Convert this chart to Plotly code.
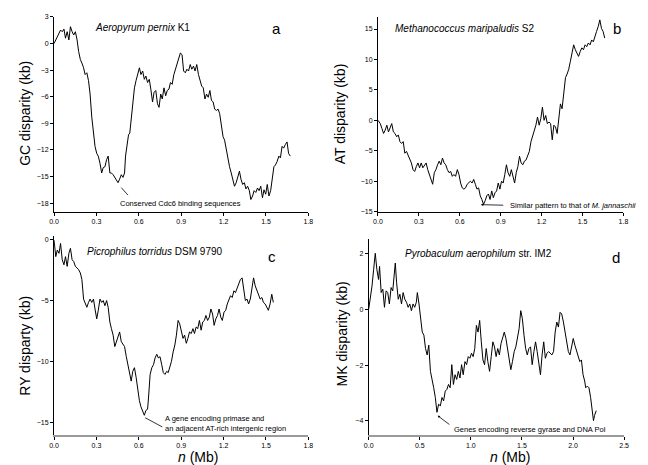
import plotly.graph_objects as go

# ---------------- data ----------------
a_n = [0, 0.023, 0.046, 0.058, 0.07, 0.081, 0.093, 0.105, 0.116, 0.128, 0.139, 0.151, 0.163, 0.174, 0.186, 0.197,
       0.209, 0.22, 0.232, 0.244, 0.255, 0.267, 0.279, 0.29, 0.302, 0.313, 0.325, 0.337, 0.348, 0.36, 0.372, 0.383,
       0.395, 0.406, 0.418, 0.43, 0.441, 0.453, 0.464, 0.476, 0.488, 0.499, 0.506, 0.518, 0.527, 0.536, 0.546, 0.557,
       0.569, 0.58, 0.592, 0.604, 0.615, 0.627, 0.639, 0.65, 0.662, 0.674, 0.685, 0.697, 0.708, 0.72, 0.732, 0.743,
       0.755, 0.766, 0.778, 0.79, 0.801, 0.813, 0.824, 0.836, 0.848, 0.859, 0.871, 0.882, 0.894, 0.906, 0.917, 0.929,
       0.94, 0.952, 0.964, 0.975, 0.987, 0.998, 1.01, 1.022, 1.033, 1.045, 1.056, 1.068, 1.079, 1.091, 1.103, 1.114,
       1.126, 1.137, 1.149, 1.161, 1.172, 1.184, 1.196, 1.207, 1.219, 1.23, 1.242, 1.254, 1.265, 1.277, 1.289, 1.3,
       1.312, 1.323, 1.335, 1.347, 1.358, 1.37, 1.382, 1.393, 1.405, 1.416, 1.428, 1.44, 1.451, 1.463, 1.475, 1.486,
       1.498, 1.509, 1.521, 1.533, 1.544, 1.556, 1.567, 1.579, 1.591, 1.602, 1.614, 1.625, 1.637, 1.649, 1.66, 1.672]
a_gc = [0, 0.78, 1.52, 1.33, 1.63, 0.6, 1.33, 0.4, 1.9, 1.33, 0.96, 1.33, 0.4, -0.9, -1.8, -2.2,
        -2.74, -3.5, -3.3, -4.2, -5.7, -8.3, -10.1, -11.6, -12.4, -12.7, -13.5, -14.6, -14.0, -13.9, -13.1, -12.7,
        -14.6, -14.6, -14.8, -15.1, -15.3, -15.7, -15.3, -14.8, -15.1, -14.6, -12.7, -11.6, -10.3, -10.1, -8.3, -6.4,
        -5.0, -4.2, -3.3, -2.74, -3.5, -3.1, -4.04, -3.67, -4.4, -4.04, -5.15, -6.6, -5.5, -5.3, -6.8, -7.2,
        -5.7, -6.26, -5.0, -5.9, -5.3, -5.15, -4.4, -4.6, -3.5, -2.9, -2.2, -1.44, -1.07, -1.26, -3.1, -3.3,
        -2.9, -3.1, -2.37, -2.9, -2.55, -3.1, -2.37, -3.5, -4.2, -4.8, -5.0, -6.26, -5.7, -6.07, -5.3, -6.4,
        -6.6, -7.4, -7.55, -7.4, -7.9, -9.4, -10.5, -10.9, -12.0, -12.9, -13.9, -14.6, -15.3, -16.1, -15.7, -15.0,
        -14.4, -15.3, -15.9, -15.7, -16.4, -16.1, -16.6, -17.6, -17.2, -16.6, -16.8, -16.3, -16.6, -16.1, -17.4, -16.5,
        -17.0, -15.9, -17.2, -16.6, -15.3, -13.9, -13.7, -13.3, -12.7, -12.9, -11.6, -11.8, -11.4, -11.1, -12.4, -12.7]

b_n = [0, 0.017, 0.029, 0.041, 0.053, 0.065, 0.077, 0.089, 0.101, 0.113, 0.125, 0.137, 0.149, 0.161, 0.173, 0.185,
       0.197, 0.209, 0.221, 0.233, 0.245, 0.257, 0.269, 0.281, 0.293, 0.305, 0.317, 0.329, 0.341, 0.353, 0.365, 0.377,
       0.389, 0.401, 0.413, 0.425, 0.437, 0.449, 0.461, 0.473, 0.485, 0.497, 0.509, 0.521, 0.533, 0.545, 0.557, 0.569,
       0.582, 0.594, 0.606, 0.618, 0.63, 0.642, 0.654, 0.666, 0.678, 0.69, 0.702, 0.714, 0.726, 0.738, 0.75, 0.762,
       0.774, 0.786, 0.798, 0.81, 0.822, 0.834, 0.846, 0.858, 0.87, 0.882, 0.894, 0.906, 0.918, 0.93, 0.942, 0.954,
       0.966, 0.978, 0.99, 1.002, 1.014, 1.026, 1.038, 1.05, 1.062, 1.074, 1.086, 1.098, 1.11, 1.122, 1.134, 1.146,
       1.158, 1.17, 1.182, 1.194, 1.206, 1.218, 1.23, 1.242, 1.254, 1.266, 1.278, 1.29, 1.302, 1.314, 1.326, 1.338,
       1.35, 1.363, 1.375, 1.387, 1.399, 1.411, 1.423, 1.435, 1.447, 1.459, 1.471, 1.483, 1.495, 1.507, 1.519, 1.531,
       1.543, 1.555, 1.567, 1.579, 1.591, 1.603, 1.615, 1.627, 1.639, 1.651, 1.663]
b_at = [0, -0.54, -1.35, -2.16, -1.6, -0.8, -1.9, -1.1, -0.54, -1.9, -2.16, -2.7, -2.4, -3.5, -3.8, -3.5,
        -5.4, -5.1, -5.7, -6.5, -7.0, -8.1, -8.4, -7.6, -7.0, -7.8, -7.0, -7.8, -7.3, -7.0, -8.1, -8.9,
        -9.7, -10.5, -8.6, -8.1, -7.3, -6.7, -7.3, -6.2, -7.0, -7.3, -8.1, -8.6, -8.4, -9.2, -8.9, -9.2,
        -8.1, -8.9, -10.3, -11.1, -11.3, -11.1, -10.5, -10.3, -10.0, -10.3, -9.7, -10.5, -11.3, -11.1, -12.4, -13.0,
        -13.8, -13.2, -12.4, -12.1, -13.0, -11.6, -12.7, -11.9, -11.6, -10.3, -11.3, -10.0, -10.3, -8.9, -7.3, -8.6,
        -9.2, -8.1, -9.2, -10.3, -8.6, -7.6, -5.9, -7.0, -7.3, -6.7, -6.5, -5.9, -5.1, -3.5, -2.7, -1.9,
        -0.8, 0.54, -0.8, 0.27, 2.16, 0.0, 0.8, -0.54, -0.27, -0.54, -3.2, -0.8, -1.1, -2.16, 0.0, 2.7,
        1.9, 4.9, 7.0, 7.6, 8.4, 9.7, 11.3, 12.4, 11.6, 11.1, 10.5, 11.3, 11.9, 11.6, 12.4, 12.1,
        12.7, 12.4, 13.2, 12.9, 14.0, 14.6, 15.4, 16.5, 15.1, 14.6, 13.5]

c_n = [0, 0.012, 0.023, 0.035, 0.046, 0.058, 0.07, 0.081, 0.093, 0.105, 0.116, 0.128, 0.139, 0.151, 0.163, 0.174,
       0.186, 0.197, 0.209, 0.22, 0.232, 0.244, 0.255, 0.267, 0.279, 0.29, 0.302, 0.313, 0.325, 0.337, 0.348, 0.36,
       0.372, 0.383, 0.395, 0.406, 0.418, 0.43, 0.441, 0.453, 0.464, 0.476, 0.488, 0.499, 0.511, 0.523, 0.534, 0.546,
       0.557, 0.569, 0.581, 0.592, 0.604, 0.615, 0.627, 0.639, 0.65, 0.662, 0.669, 0.68, 0.692, 0.704, 0.715, 0.727,
       0.738, 0.75, 0.762, 0.773, 0.785, 0.797, 0.808, 0.82, 0.831, 0.843, 0.855, 0.866, 0.878, 0.889, 0.901, 0.913,
       0.924, 0.936, 0.947, 0.959, 0.971, 0.983, 0.994, 1.006, 1.017, 1.029, 1.041, 1.052, 1.064, 1.075, 1.087, 1.099,
       1.11, 1.122, 1.133, 1.145, 1.157, 1.168, 1.18, 1.191, 1.203, 1.215, 1.226, 1.238, 1.249, 1.261, 1.273, 1.284,
       1.296, 1.308, 1.319, 1.331, 1.343, 1.354, 1.366, 1.377, 1.389, 1.401, 1.412, 1.424, 1.436, 1.447, 1.459, 1.471,
       1.482, 1.494, 1.506, 1.517, 1.529, 1.541, 1.552]
c_ry = [-0.05, -1.4, -0.86, -1.13, -0.32, -1.66, -2.07, -1.4, -2.2, -1.13, -0.72, -1.66, -1.8, -2.2, -2.33, -2.47,
        -2.74, -3.27, -4.88, -5.3, -5.55, -5.15, -4.88, -5.15, -4.88, -5.69, -6.5, -5.8, -4.88, -5.15, -5.0, -5.42,
        -5.0, -5.55, -6.76, -7.3, -7.83, -8.77, -8.37, -7.83, -7.57, -8.37, -8.64, -8.77, -9.58, -10.25, -11.05, -11.6,
        -10.8, -10.5, -11.3, -12.4, -13.2, -13.7, -14.1, -14.4, -14.0, -13.9, -12.9, -11.05, -10.5, -10.25, -9.7, -9.4,
        -9.7, -9.6, -10.25, -10.9, -11.05, -10.8, -10.9, -10.5, -9.98, -9.2, -8.64, -7.83, -6.63, -6.9, -7.57, -8.1,
        -7.83, -8.5, -8.1, -7.57, -7.7, -7.3, -7.7, -7.16, -7.3, -6.63, -7.43, -6.76, -6.63, -6.22, -6.63, -6.36,
        -5.69, -6.1, -7.03, -6.5, -6.22, -5.69, -6.36, -6.63, -5.95, -5.8, -5.28, -4.88, -4.6, -4.75, -4.2, -4.35,
        -3.94, -3.54, -3.27, -3.14, -4.2, -5.0, -4.88, -5.28, -4.88, -3.94, -3.14, -3.8, -4.2, -4.48, -4.88, -4.75,
        -5.15, -5.28, -5.55, -5.8, -5.28, -4.48, -5.15]

d_n = [0, 0.016, 0.032, 0.048, 0.064, 0.08, 0.096, 0.106, 0.122, 0.138, 0.154, 0.17, 0.186, 0.202, 0.219, 0.235,
       0.251, 0.26, 0.273, 0.289, 0.305, 0.321, 0.337, 0.353, 0.37, 0.386, 0.402, 0.418, 0.434, 0.45, 0.466, 0.476,
       0.492, 0.508, 0.524, 0.54, 0.556, 0.572, 0.588, 0.604, 0.62, 0.636, 0.652, 0.668, 0.684, 0.701, 0.717, 0.733,
       0.749, 0.765, 0.781, 0.797, 0.813, 0.829, 0.845, 0.861, 0.877, 0.893, 0.909, 0.925, 0.942, 0.958, 0.974, 0.99,
       1.006, 1.022, 1.038, 1.054, 1.07, 1.086, 1.102, 1.118, 1.134, 1.15, 1.166, 1.183, 1.199, 1.215, 1.231, 1.247,
       1.263, 1.279, 1.295, 1.311, 1.327, 1.343, 1.359, 1.375, 1.391, 1.407, 1.424, 1.44, 1.456, 1.472, 1.488, 1.504,
       1.52, 1.536, 1.552, 1.568, 1.584, 1.6, 1.617, 1.633, 1.649, 1.665, 1.681, 1.697, 1.713, 1.729, 1.745, 1.761,
       1.777, 1.793, 1.809, 1.825, 1.841, 1.857, 1.873, 1.889, 1.906, 1.922, 1.938, 1.954, 1.97, 1.986, 2.002, 2.018,
       2.034, 2.05, 2.066, 2.082, 2.098, 2.114, 2.124, 2.14, 2.156, 2.172, 2.188, 2.2, 2.21, 2.227]
d_mk = [0.02, 0.37, 0.84, 1.43, 2.02, 1.43, 1.08, 1.55, 0.61, 0.73, 0.08, 0.67, 0.61, 0.2, 0.79, 0.67,
        1.32, 1.67, 0.96, 0.37, 0.55, 0.2, 0.61, 0.37, 0.26, 0.08, 0.2, -0.04, 0.2, 0.08, 0.26, 0.61,
        0.2, -0.45, -0.81, -0.92, -1.4, -1.63, -1.28, -2.22, -2.46, -2.81, -3.16, -3.69, -3.4, -3.46, -3.16, -3.28,
        -2.93, -2.87, -2.69, -2.81, -1.98, -2.69, -2.34, -2.51, -2.22, -2.46, -1.98, -2.34, -1.87, -1.98, -1.69, -1.75,
        -1.57, -1.69, -1.4, -0.57, -0.81, -0.39, -1.16, -1.81, -1.98, -1.4, -1.87, -2.22, -1.69, -1.16, -1.34, -1.69,
        -1.4, -1.63, -1.22, -1.04, -0.81, -1.04, -1.4, -1.69, -2.16, -1.87, -1.51, -1.34, -0.92, -0.69, -0.04, -0.33,
        -0.92, -1.4, -1.63, -1.4, -1.34, -1.98, -1.51, -1.16, -1.51, -1.87, -2.34, -1.63, -1.16, -1.75, -1.57, -1.51,
        -1.57, -1.63, -1.51, -0.81, -0.45, -0.63, -0.1, -0.16, -0.45, -0.81, -1.28, -1.51, -1.63, -1.34, -1.04, -1.28,
        -1.46, -1.63, -1.87, -1.81, -2.34, -2.57, -2.81, -2.75, -2.81, -3.16, -3.63, -3.99, -3.81, -3.63]

x_ticks_mb = [0.0, 0.3, 0.6, 0.9, 1.2, 1.5, 1.8]
x_ticks_d = [0.0, 0.5, 1.0, 1.5, 2.0, 2.5]
y_ticks_a = [-18, -15, -12, -9, -6, -3, 0, 3]
y_ticks_b = [-15, -10, -5, 0, 5, 10, 15]
y_ticks_c = [-15, -10, -5, 0]
y_ticks_d = [-4, -2, 0, 2]

# ---------------- figure ----------------
W, H = 648, 465
FONT = "Arial, Liberation Sans, Helvetica, sans-serif"

def px_x(p):
    return p / W

def px_y(p):
    return 1 - p / H

fig = go.Figure()
line = dict(color="black", width=1)
fig.add_trace(go.Scatter(x=a_n, y=a_gc, mode="lines", line=line, xaxis="x", yaxis="y", showlegend=False))
fig.add_trace(go.Scatter(x=b_n, y=b_at, mode="lines", line=line, xaxis="x2", yaxis="y2", showlegend=False))
fig.add_trace(go.Scatter(x=c_n, y=c_ry, mode="lines", line=line, xaxis="x3", yaxis="y3", showlegend=False))
fig.add_trace(go.Scatter(x=d_n, y=d_mk, mode="lines", line=line, xaxis="x4", yaxis="y4", showlegend=False))

tickfont = dict(family=FONT, size=7, color="black")

def xax(dom, rng, ticks, anchor, color="black", lw=1):
    return dict(domain=dom, range=rng, tickvals=ticks, ticktext=[f"{t:.1f}" for t in ticks],
                anchor=anchor, showline=True, linecolor=color, linewidth=lw, ticks="outside",
                ticklen=3, tickwidth=1, tickcolor="black", showgrid=False, zeroline=False,
                tickfont=tickfont, fixedrange=True)

def yax(dom, rng, ticks, anchor):
    return dict(domain=dom, range=rng, tickvals=ticks, ticktext=[str(t).replace("-", "\u2212") for t in ticks],
                anchor=anchor, showline=True, linecolor="black", linewidth=1, ticks="outside",
                ticklen=3, tickwidth=1, tickcolor="black", showgrid=False, zeroline=False,
                tickfont=tickfont, fixedrange=True)

fig.update_layout(
    width=W, height=H, margin=dict(l=0, r=0, t=0, b=0),
    paper_bgcolor="white", plot_bgcolor="white", showlegend=False,
    xaxis=xax([px_x(41.7), px_x(300)], [0, 1.8], x_ticks_mb, "y"),
    yaxis=yax([px_y(203), px_y(5)], [-19, 3], y_ticks_a, "x"),
    xaxis2=xax([px_x(370.7), px_x(620)], [0, 1.8], x_ticks_mb, "y2"),
    yaxis2=yax([px_y(202.7), px_y(4.9)], [-15, 17], y_ticks_b, "x2"),
    xaxis3=xax([px_x(41.7), px_x(300)], [0, 1.8], x_ticks_mb, "y3", color="#9a9a9a", lw=2),
    yaxis3=yax([px_y(429.3), px_y(227.3)], [-16, 0.3], y_ticks_c, "x3"),
    xaxis4=xax([px_x(361.3), px_x(620.7)], [0, 2.5], x_ticks_d, "y4", color="#9a9a9a", lw=2),
    yaxis4=yax([px_y(429.3), px_y(230)], [-4.5, 2.55], y_ticks_d, "x4"),
)

ann = []
def ptext(x, y, text, size, angle=0, xanchor="center"):
    ann.append(dict(x=px_x(x), y=px_y(y), xref="paper", yref="paper", text=text, showarrow=False,
                    textangle=angle, xanchor=xanchor, yanchor="middle",
                    font=dict(family=FONT, size=size, color="black")))

# axis titles
ptext(12, 102.5, "GC disparity (kb)", 14, -90)
ptext(333, 103, "AT disparity (kb)", 14, -90)
ptext(12, 339, "RY disparty (kb)", 14, -90)
ptext(334.5, 327, "MK disparity (kb)", 14, -90)
ptext(188, 451.5, "<i>n</i> (Mb)", 14)
ptext(505, 451.5, "<i>n</i> (Mb)", 14)

# species titles
ptext(81.7, 16, "<i>Aeropyrum pernix</i> K1", 10, xanchor="left")
ptext(386, 17, "<i>Methanococcus maripaludis</i> S2", 10, xanchor="left")
ptext(73, 243, "<i>Picrophilus torridus</i> DSM 9790", 10, xanchor="left")
ptext(396, 245.5, "<i>Pyrobaculum aerophilum</i> str. IM2", 10, xanchor="left")

# panel letters
ptext(268, 17, "a", 15)
ptext(613, 17, "b", 15)
ptext(263, 248, "c", 15)
ptext(612, 249, "d", 15)

afont = dict(family=FONT, size=7.5, color="black")
# a: plain leader line
fig.add_shape(type="line", xref="x", yref="y", x0=0.476, y0=-16.26, x1=0.523, y1=-17.1,
              line=dict(color="black", width=0.8))
ann.append(dict(x=0.892, y=-18.0, xref="x", yref="y", text="Conserved Cdc6 binding sequences",
                showarrow=False, xanchor="center", yanchor="middle", font=afont))
# b: arrow
ann.append(dict(x=0.755, y=-13.85, ax=0.93, ay=-13.95, xref="x2", yref="y2", axref="x2", ayref="y2",
                text="", showarrow=True, arrowhead=2, arrowsize=0.6, arrowwidth=0.8, arrowcolor="black"))
ann.append(dict(x=0.955, y=-13.95, xref="x2", yref="y2", text="Similar pattern to that of <i>M. jannaschii</i>",
                showarrow=False, xanchor="left", yanchor="middle", font=afont))
# c: leader line
fig.add_shape(type="line", xref="x3", yref="y3", x0=0.645, y0=-14.6, x1=0.766, y1=-15.35,
              line=dict(color="black", width=0.8))
ann.append(dict(x=0.774, y=-14.63, xref="x3", yref="y3", text="A gene encoding primase and",
                showarrow=False, xanchor="left", yanchor="middle", font=afont))
ann.append(dict(x=0.774, y=-15.49, xref="x3", yref="y3", text="an adjacent AT-rich intergenic region",
                showarrow=False, xanchor="left", yanchor="middle", font=afont))
# d: arrow
ann.append(dict(x=0.675, y=-3.81, ax=0.804, ay=-4.17, xref="x4", yref="y4", axref="x4", ayref="y4",
                text="", showarrow=True, arrowhead=2, arrowsize=0.6, arrowwidth=0.8, arrowcolor="black"))
ann.append(dict(x=0.82, y=-4.32, xref="x4", yref="y4", text="Genes encoding reverse gyrase and DNA Pol",
                showarrow=False, xanchor="left", yanchor="middle", font=afont))

fig.update_layout(annotations=ann)
fig.write_html("out.html")
